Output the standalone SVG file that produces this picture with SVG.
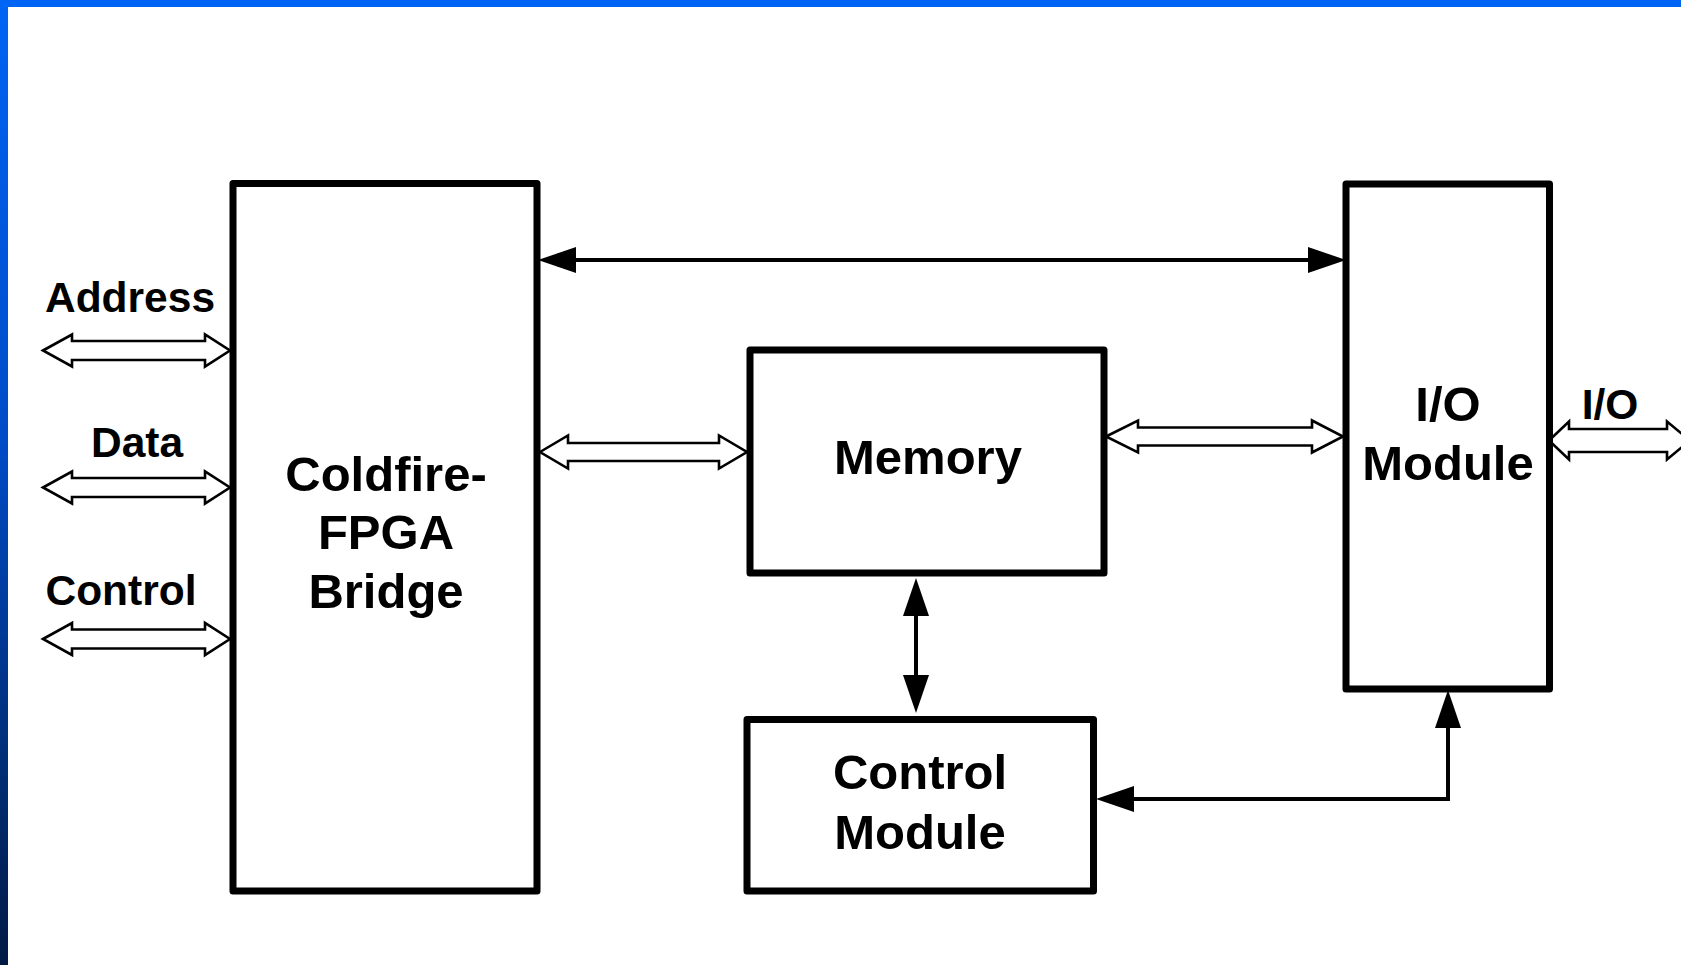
<svg xmlns="http://www.w3.org/2000/svg" width="1681" height="965" viewBox="0 0 1681 965">
<defs>
<linearGradient id="sideGrad" x1="0" y1="0" x2="0" y2="1">
<stop offset="0" stop-color="#0064f4"/>
<stop offset="0.45" stop-color="#004cc8"/>
<stop offset="1" stop-color="#001a44"/>
</linearGradient>
<marker id="ah" viewBox="0 0 38 26" refX="28" refY="13" markerWidth="38" markerHeight="26" markerUnits="userSpaceOnUse" orient="auto-start-reverse">
<path d="M0,0 L38,13 L0,26 Z" fill="#000"/>
</marker>
<style>
.box{fill:#fff;stroke:#000;stroke-width:7;stroke-linejoin:round}
.lbl{font-family:"Liberation Sans",Arial,sans-serif;font-weight:bold;fill:#000;text-anchor:middle}
.big{font-size:49px}
.small{font-size:42.5px}
.bus{fill:#fff;stroke:#000;stroke-width:2.6;stroke-linejoin:miter}
.wire{fill:none;stroke:#000;stroke-width:4}
</style>
</defs>
<rect x="0" y="0" width="1681" height="965" fill="#fff"/>
<rect x="0" y="0" width="8" height="965" fill="url(#sideGrad)"/>
<rect x="0" y="0" width="1681" height="7" fill="#0064f4"/>

<g id="connectors">
<line class="wire" x1="548" y1="260" x2="1336" y2="260" marker-start="url(#ah)" marker-end="url(#ah)"/>
<line class="wire" x1="916" y1="588" x2="916" y2="703" marker-start="url(#ah)" marker-end="url(#ah)"/>
<path class="wire" d="M1106,799 H1448 V700" marker-start="url(#ah)" marker-end="url(#ah)"/>
<path class="bus" d="M43,350.5 L72,334.5 L72,341 L205,341 L205,334.5 L230,350.5 L205,366.5 L205,360 L72,360 L72,366.5 Z"/>
<path class="bus" d="M43,487.5 L72,471.5 L72,478 L205,478 L205,471.5 L230,487.5 L205,503.5 L205,497 L72,497 L72,503.5 Z"/>
<path class="bus" d="M43,639 L72,623 L72,629.5 L205,629.5 L205,623 L230,639 L205,655 L205,648.5 L72,648.5 L72,655 Z"/>
<path class="bus" d="M540,452 L568,435.5 L568,443 L719,443 L719,435.5 L747,452 L719,468.5 L719,461 L568,461 L568,468.5 Z"/>
<path class="bus" d="M1106,436.5 L1138,420.5 L1138,427.5 L1312,427.5 L1312,420.5 L1343,436.5 L1312,452.5 L1312,445.5 L1138,445.5 L1138,452.5 Z"/>
<path class="bus" d="M1549,440.5 L1569,421.5 L1569,429 L1667,429 L1667,421.5 L1690,440.5 L1667,459.5 L1667,452 L1569,452 L1569,459.5 Z"/>
</g>

<g id="coldfire">
<rect class="box" x="233" y="183.5" width="304" height="707.5"/>
<text class="lbl big" x="386" y="491">Coldfire-</text>
<text class="lbl big" x="386" y="549">FPGA</text>
<text class="lbl big" x="386" y="608">Bridge</text>
</g>

<g id="memory">
<rect class="box" x="750" y="350" width="354" height="223"/>
<text class="lbl big" x="928" y="474">Memory</text>
</g>

<g id="control-module">
<rect class="box" x="747" y="719.5" width="346.5" height="171.5"/>
<text class="lbl big" x="920" y="789">Control</text>
<text class="lbl big" x="920" y="849">Module</text>
</g>

<g id="io-module">
<rect class="box" x="1346" y="184" width="203.5" height="505"/>
<text class="lbl big" x="1448" y="421">I/O</text>
<text class="lbl big" x="1448" y="480">Module</text>
</g>

<g id="labels">
<text class="lbl small" x="130" y="312">Address</text>
<text class="lbl small" x="137" y="457">Data</text>
<text class="lbl small" x="121" y="605">Control</text>
<text class="lbl small" x="1610" y="419">I/O</text>
</g>
</svg>
